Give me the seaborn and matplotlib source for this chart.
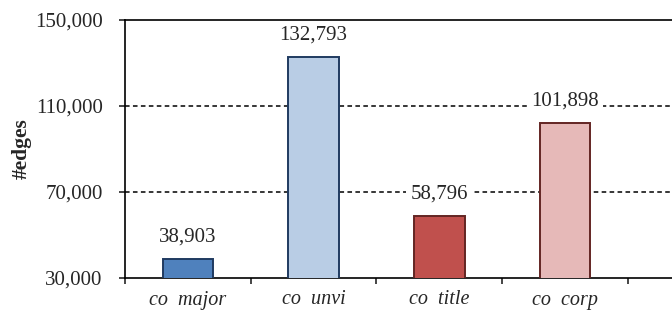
import matplotlib
matplotlib.use("Agg")
import matplotlib.pyplot as plt
import seaborn as sns
import pandas as pd

# values
categories = ["co  major", "co  unvi", "co  title", "co  corp"]
edges = [38903, 132793, 58796, 101898]
fill_colors = ["#4F81BD", "#B9CDE5", "#C0504D", "#E6B9B8"]
edge_colors = ["#1F3A60", "#1F3A60", "#632523", "#632523"]
y_ticks = [30000, 70000, 110000, 150000]

df = pd.DataFrame({"category": categories, "edges": edges})

sns.set_style("white")
plt.rcParams["font.family"] = ["Liberation Serif", "DejaVu Serif"]

fig = plt.figure(figsize=(6.72, 3.11), dpi=100)
ax = fig.add_axes([125 / 672, 33 / 311, 1 - 125 / 672, 258 / 311])

sns.barplot(data=df, x="category", y="edges", hue="category", palette=fill_colors,
            saturation=1, width=0.4, legend=False, ax=ax, zorder=3)
for patch, ec in zip(ax.patches, edge_colors):
    patch.set_edgecolor(ec)
    patch.set_linewidth(1.4)

# dashed reference lines
for yv in y_ticks[1:-1]:
    ax.axhline(yv, color="black", linestyle=(0, (3, 2.2)), linewidth=1.1, zorder=1)

ax.set_ylim(30000, 150000)
ax.set_xlim(-0.5, 3.85)
ax.set_yticks(y_ticks)
ax.set_yticklabels([f"{v:,}" for v in y_ticks])
ax.set_xticks([-0.5, 0.5, 1.5, 2.5, 3.5])
ax.set_xticklabels([])
ax.set_xticks(range(len(categories)), minor=True)
ax.set_xticklabels(categories, minor=True, fontstyle="italic", fontsize=14.5)
ax.tick_params(axis="x", which="minor", length=0, pad=9)
ax.tick_params(axis="x", which="major", direction="out", length=4, width=1.2, bottom=True)
ax.tick_params(axis="y", direction="out", length=4, width=1.2, left=True, labelsize=15, pad=12)

ax.set_xlabel("")
ax.set_ylabel("#edges", fontsize=15.5, fontweight="bold")
ax.yaxis.set_label_coords(-93 / 547, 0.5)

for side in ["left", "bottom", "top"]:
    ax.spines[side].set_color("black")
    ax.spines[side].set_linewidth(1.2)
ax.spines["right"].set_visible(False)

# value labels above bars
for i, v in enumerate(edges):
    ax.annotate(f"{v:,}", (i, v), xytext=(0, 16), textcoords="offset points",
                ha="center", va="center", fontsize=15, zorder=4,
                bbox=dict(facecolor="white", edgecolor="none", pad=3))

fig.savefig("out.png", dpi=100)
